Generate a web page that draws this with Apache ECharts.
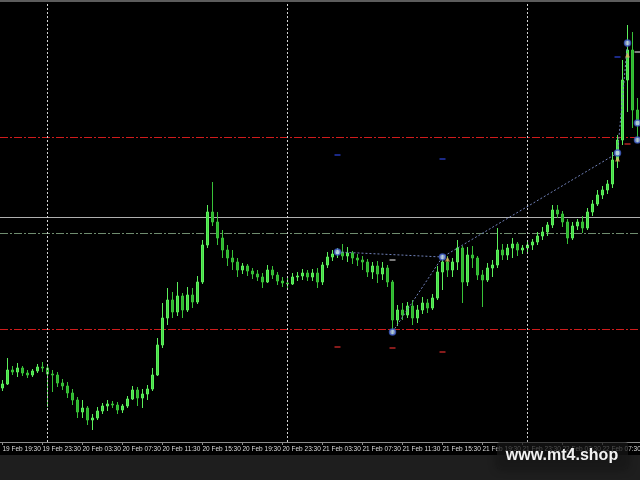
<!DOCTYPE html>
<html><head><meta charset="utf-8">
<script src="https://cdn.jsdelivr.net/npm/echarts@6/dist/echarts.min.js"></script>
<style>html,body{margin:0;padding:0;background:#000}#c{width:640px;height:480px}</style>
</head><body><div id="c"></div>
<script>
// 30-minute bars starting 19 Feb 19:30
const startDay = 19, startHour = 19, startMinute = 30, barCount = 128;
function makeTimes(n){const out=[];let d=startDay,h=startHour,m=startMinute;for(let i=0;i<n;i++){out.push(d+' Feb '+String(h).padStart(2,'0')+':'+String(m).padStart(2,'0'));m+=30;if(m===60){m=0;h++;if(h===24){h=0;d++;}}}return out;}
const times = makeTimes(barCount);

const opens = [2052,2056,2070,2068,2072,2067,2065,2069,2073,2072, 2066,2065,2057,2054,2047,2040,2028,2032,2020,2022, 2029,2034,2036,2035,2030,2034,2041,2050,2042,2046, 2051,2065,2095,2122,2140,2128,2144,2130,2145,2138, 2158,2195,2228,2218,2202,2190,2182,2178,2170,2174, 2169,2166,2163,2158,2170,2165,2159,2157,2156,2163, 2164,2167,2163,2167,2158,2175,2183,2186,2188,2184, 2187,2182,2180,2178,2168,2174,2166,2172,2158,2120, 2130,2125,2134,2122,2130,2137,2132,2142,2168,2178, 2170,2178,2192,2158,2185,2182,2165,2160,2172,2175, 2190,2185,2192,2196,2190,2192,2195,2198,2204,2208, 2215,2230,2226,2218,2202,2214,2218,2212,2228,2236, 2245,2250,2256,2280,2300,2360,2390,2330];
const closes = [2056,2070,2068,2072,2067,2065,2069,2073,2072,2066, 2065,2057,2054,2047,2040,2028,2032,2020,2022,2029, 2034,2036,2035,2030,2034,2041,2050,2042,2046,2051, 2065,2095,2122,2140,2128,2144,2130,2145,2138,2158, 2195,2228,2218,2202,2190,2182,2178,2170,2174,2169, 2166,2163,2158,2170,2165,2159,2157,2156,2163,2164, 2167,2163,2167,2158,2175,2183,2186,2188,2184,2187, 2182,2180,2178,2168,2174,2166,2172,2158,2120,2130, 2125,2134,2122,2130,2137,2132,2142,2168,2178,2170, 2178,2192,2158,2185,2182,2165,2160,2172,2175,2190, 2185,2192,2196,2190,2192,2195,2198,2204,2208,2215, 2230,2226,2218,2202,2214,2218,2212,2228,2236,2245, 2250,2256,2280,2300,2360,2390,2330,2315];
const lows = [2049,2055,2065,2063,2064,2062,2063,2067,2068,2033, 2048,2053,2050,2042,2035,2022,2022,2015,2010,2020, 2026,2029,2032,2026,2027,2032,2040,2034,2032,2040, 2049,2064,2092,2115,2122,2124,2122,2128,2132,2136, 2156,2192,2214,2195,2182,2174,2170,2163,2166,2164, 2161,2159,2152,2157,2161,2155,2153,2150,2155,2159, 2160,2159,2159,2152,2155,2172,2179,2182,2180,2178, 2176,2174,2170,2163,2161,2157,2160,2153,2106,2114, 2120,2122,2115,2117,2126,2127,2130,2140,2150,2163, 2163,2170,2137,2154,2172,2160,2133,2158,2163,2172, 2180,2180,2182,2184,2186,2188,2190,2195,2200,2204, 2212,2222,2213,2196,2200,2210,2207,2210,2224,2234, 2241,2246,2252,2272,2295,2328,2312,2297];
const highs = [2060,2082,2074,2077,2074,2070,2071,2076,2078,2074, 2070,2068,2061,2058,2051,2043,2040,2034,2026,2033, 2037,2040,2039,2038,2036,2044,2054,2053,2051,2055, 2072,2102,2137,2152,2148,2158,2147,2153,2152,2164, 2200,2235,2258,2228,2210,2195,2190,2182,2177,2176, 2172,2170,2167,2175,2174,2168,2163,2162,2167,2168, 2171,2170,2171,2172,2178,2188,2190,2192,2196,2193, 2189,2186,2184,2181,2178,2179,2178,2175,2160,2135, 2137,2138,2140,2135,2143,2141,2146,2174,2185,2184, 2182,2200,2194,2193,2194,2184,2170,2177,2180,2212, 2196,2196,2202,2198,2195,2199,2201,2208,2213,2218, 2235,2235,2229,2221,2218,2221,2224,2232,2240,2250, 2254,2260,2288,2305,2380,2415,2408,2342];

// level lines (prices)
const redLevels = [2302.5, 2110.5];
const grayLevel = 2222.5;
const dashLevel = 2206.5;
const daySeparators = [9, 57, 105];

// swing points [barIndex, price]
const swingPoints = [[67,2188],[88,2183],[78,2108],[123,2287],[125,2397],[127,2317],[127,2300]];
const trendLineA = [[67,2188],[88,2183]];
const trendLineB = [[78,2108],[88,2183],[123,2287],[125,2397]];
const arrowPoints = [[89,2181],[123,2281],[125,2385]];
const blueTicks = [[67,2285],[88,2281],[123,2383]];
const redTicks = [[67,2093],[78,2092],[88,2088],[125,2296]];
const grayTicks = [[78,2180],[127,2388]];

const candles = opens.map((o,i)=>[o, closes[i], lows[i], highs[i]]);

const dashDot = [8,2,2,2];
// horizontal levels drawn on a helper value x-axis spanning the full width
function levelLine(price, color, type){
  return {type:'line',xAxisIndex:1,data:[[0,price],[1,price]],symbol:'none',silent:true,z:2,
    lineStyle:{color:color,type:type,width:1,opacity:1}};
}

const chart = echarts.init(document.getElementById('c'));
chart.setOption({
  animation:false,
  backgroundColor:'#000',
  grid:{left:0,right:0,top:2,bottom:38,containLabel:false,outerBoundsMode:'none'},
  xAxis:[{type:'category',data:times,boundaryGap:true,
    axisLine:{lineStyle:{color:'#8c8c8c',width:1}},
    axisTick:{show:true,interval:7,alignWithLabel:true,length:3,lineStyle:{color:'#8c8c8c'}},
    axisLabel:{interval:7,align:'left',color:'#dcdcdc',fontSize:6.5,fontFamily:'Liberation Sans',margin:4,hideOverlap:false},
    splitLine:{show:false}},
    {type:'value',min:0,max:1,show:false,splitLine:{show:false}}],
  yAxis:{type:'value',min:1998,max:2438,show:false,splitLine:{show:false}},
  series:[
    levelLine(redLevels[0], '#d01c1c', dashDot),
    levelLine(redLevels[1], '#d01c1c', dashDot),
    levelLine(grayLevel, '#b0b0b0', 'solid'),
    levelLine(dashLevel, '#6f8c6f', dashDot),
    {type:'line',data:[],silent:true,z:2,
     markLine:{silent:true,symbol:'none',label:{show:false},animation:false,emphasis:{disabled:true},
       lineStyle:{color:'#d4d4d4',type:[2,2],width:1,opacity:1},
       data:daySeparators.map(i=>({xAxis:times[i]}))}},
    {type:'candlestick',data:candles,barWidth:3,z:3,
     itemStyle:{color:'#45d845',color0:'#2fb52f',borderColor:'#5cf05c',borderColor0:'#38c238',borderWidth:1}},
    {type:'line',data:trendLineA,symbol:'none',z:4,lineStyle:{color:'#7080b8',type:[2,2],width:1}},
    {type:'line',data:trendLineB,symbol:'none',z:4,lineStyle:{color:'#7080b8',type:[2,2],width:1}},
    {type:'scatter',data:blueTicks,symbol:'rect',symbolSize:[6,2],z:4,itemStyle:{color:'#2233a8'}},
    {type:'scatter',data:redTicks,symbol:'rect',symbolSize:[6,2],z:4,itemStyle:{color:'#a82222'}},
    {type:'scatter',data:grayTicks,symbol:'rect',symbolSize:[6,2],z:4,itemStyle:{color:'#9a9a9a'}},
    {type:'scatter',data:arrowPoints,symbol:'triangle',symbolSize:5,z:5,itemStyle:{color:'#e0b060'}},
    {type:'scatter',data:swingPoints,symbol:'circle',symbolSize:6,z:6,itemStyle:{color:'#c4d4f6',borderColor:'#3a58c0',borderWidth:1.5}}
  ],
  graphic:[
    {type:'rect',left:0,top:0,shape:{x:0,y:0,width:640,height:2},style:{fill:'#5c5c5c'},z:50},
    {type:'rect',shape:{x:0,y:455,width:640,height:25},style:{fill:'#1e1e1e'},z:-10},
    {type:'rect',shape:{x:497,y:442,width:131,height:27,r:3},style:{fill:'rgba(26,26,26,0.6)',shadowBlur:8,shadowColor:'rgba(0,0,0,0.6)'},z:100},
    {type:'text',x:562,y:456,style:{text:'www.mt4.shop',font:'bold 16px "Liberation Sans"',fill:'#f2f2f2',align:'center',verticalAlign:'middle',textAlign:'center',textVerticalAlign:'middle'},z:101}
  ]
});
</script>
</body></html>
